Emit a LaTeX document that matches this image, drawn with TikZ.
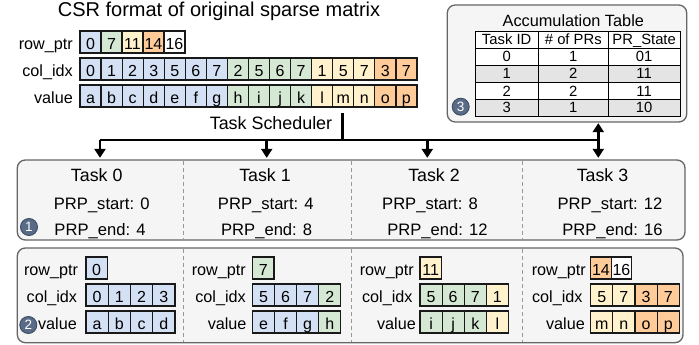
\documentclass[tikz,border=0pt]{standalone}
\usepackage{fontspec}
\setmainfont{Liberation Sans}
\usetikzlibrary{arrows.meta}
\definecolor{cblue}{HTML}{D4E1F5}
\definecolor{cgreen}{HTML}{D5E8D4}
\definecolor{cyellow}{HTML}{FFF2CC}
\definecolor{corange}{HTML}{FFCC99}
\definecolor{boxfill}{HTML}{F5F5F5}
\definecolor{boxline}{HTML}{666666}
\definecolor{rowgray}{HTML}{E4E4E4}
\definecolor{marker}{HTML}{596B86}
\definecolor{markerline}{HTML}{3C4C63}
% #1 prefix, #2 left x, #3 top y, #4 cell width, #5 list text/colour
\newcommand\cellrow[5]{%
  \foreach \t/\c [count=\i] in {#5} {%
    \node[cellbox, fill=\c, minimum width=#4] (#1\i) at ({#2+(\i-0.5)*#4},{#3+11}) {\t};
  }}
\newcommand\rowlabel[4]{% #1 name, #2 right x, #3 top y, #4 text
  \node[lbl, anchor=base east] (#1) at (#2,{#3+18.5}) {#4};}
\begin{document}
\begin{tikzpicture}[x=1pt,y=-1pt,
  cellbox/.style={draw=black!90, line width=1.2pt, inner sep=0pt, minimum height=22pt,
    text height=15pt, text depth=0pt, font=\fontsize{16}{16}\selectfont},
  lbl/.style={inner sep=0pt, font=\fontsize{16.2}{16}\selectfont},
  bigbox/.style={draw=boxline, fill=boxfill, line width=1.3pt, rounded corners=8pt, inner sep=0pt},
  sep/.style={draw=gray!80, line width=0.8pt, dash pattern=on 3.5pt off 3.5pt},
  tcell/.style={draw=black, line width=0.9pt, inner sep=0pt, minimum height=17pt,
    text height=11pt, text depth=0pt, font=\fontsize{14.8}{15}\selectfont},
  marknode/.style={circle, fill=marker, draw=markerline, line width=0.9pt, minimum size=17pt,
    inner sep=0pt, text=white, font=\fontsize{13.5}{13.5}\selectfont},
  tasktitle/.style={inner sep=0pt, anchor=base, font=\fontsize{17.8}{18}\selectfont},
  prp/.style={inner sep=0pt, anchor=base, font=\fontsize{16.6}{17}\selectfont},
  link/.style={line width=2.5pt, draw=black},
  arr/.style={link, -{Triangle[width=11pt,length=9pt]}},
  darr/.style={link, {Triangle[width=11pt,length=9pt]}-{Triangle[width=11pt,length=9pt]}}
]
\useasboundingbox (0,0) rectangle (699,345);

% ---------- title and original CSR ----------
\node[inner sep=0pt, anchor=base, font=\fontsize{20}{20}\selectfont] (title) at (219,17) {CSR format of original sparse matrix};

\rowlabel{lrp}{73}{31}{row\_ptr}
\rowlabel{lci}{73}{58}{col\_idx}
\rowlabel{lva}{73}{85}{value}
\cellrow{rp}{80}{31}{21}{0/cblue,7/cgreen,11/cyellow,14/corange,16/white}
\cellrow{ci}{80}{58}{21.06}{0/cblue,1/cblue,2/cblue,3/cblue,5/cblue,6/cblue,7/cblue,2/cgreen,5/cgreen,6/cgreen,7/cgreen,1/cyellow,5/cyellow,7/cyellow,3/corange,7/corange}
\cellrow{va}{80}{85}{21.06}{a/cblue,b/cblue,c/cblue,d/cblue,e/cblue,f/cblue,g/cblue,h/cgreen,i/cgreen,j/cgreen,k/cgreen,l/cyellow,m/cyellow,n/cyellow,o/corange,p/corange}

% ---------- accumulation table ----------
\node[bigbox, minimum width=239.4pt, minimum height=117pt] (acc) at (567,63.5) {};
\node[inner sep=0pt, anchor=base, font=\fontsize{16.3}{16}\selectfont] (acctitle) at (573.3,26.7) {Accumulation Table};
\foreach \a/\b/\cc/\f [count=\r from 0] in {Task ID/\# of PRs/PR\_State/white,0/1/01/white,1/2/11/rowgray,2/2/11/white,3/1/10/rowgray} {
  \node[tcell, fill=\f, minimum width=63.3pt] (t\r a) at (506.65,{39.5+17*\r}) {\a};
  \node[tcell, fill=\f, minimum width=70pt]   (t\r b) at (573.3,{39.5+17*\r}) {\b};
  \node[tcell, fill=\f, minimum width=71.7pt] (t\r c) at (644.15,{39.5+17*\r}) {\cc};
}
\node[marknode] (m3) at (460.7,106.7) {3};

% ---------- task boxes ----------
\node[bigbox, minimum width=667.7pt, minimum height=80pt] (tasks) at (351.15,200) {};
\node[bigbox, minimum width=665.7pt, minimum height=94.7pt] (parts) at (350.15,295.35) {};
\foreach \x in {183.3,351,522.7} {
  \draw[sep] (\x,161) -- (\x,239);
  \draw[sep] (\x,249) -- (\x,342);
}

% ---------- scheduler and arrows ----------
\node[inner sep=0pt, anchor=base, font=\fontsize{17.9}{18}\selectfont] (sched) at (271,129.3) {Task Scheduler};
\coordinate (s0) at (342.3,113);
\coordinate (sj) at (342.3,140);
\coordinate (j0) at (100,140);
\coordinate (j1) at (266.7,140);
\coordinate (j2) at (427.3,140);
\coordinate (j3) at (598.3,140);
\draw[link] (s0) -- (sj);
\draw[link] (j0) -- (j3);
\draw[arr, shorten >=1.5pt] (j0) -- (j0 |- tasks.north);
\draw[arr, shorten >=1.5pt] (j1) -- (j1 |- tasks.north);
\draw[arr, shorten >=1.5pt] (j2) -- (j2 |- tasks.north);
\draw[darr, shorten >=1.5pt, shorten <=0.5pt] (j3 |- acc.south) -- (j3 |- tasks.north);

% ---------- task contents ----------
\node[tasktitle] (T0) at (96.7,181.7) {Task 0};
\node[tasktitle] (T1) at (265,181.7) {Task 1};
\node[tasktitle] (T2) at (434,181.7) {Task 2};
\node[tasktitle] (T3) at (602.5,181.7) {Task 3};
\node[prp] (S0) at (101.7,209.3) {PRP\_start: 0};
\node[prp] (S1) at (265.8,209.3) {PRP\_start: 4};
\node[prp] (S2) at (430,209.3) {PRP\_start: 8};
\node[prp] (S3) at (610,209.3) {PRP\_start: 12};
\node[prp] (E0) at (100,235) {PRP\_end: 4};
\node[prp] (E1) at (266.7,235) {PRP\_end: 8};
\node[prp] (E2) at (437.5,235) {PRP\_end: 12};
\node[prp] (E3) at (612.5,235) {PRP\_end: 16};
\node[marknode] (m1) at (29,227) {1};

% ---------- per-task CSR parts ----------
% Task 0
\rowlabel{a0}{78.3}{257}{row\_ptr}
\rowlabel{b0}{77.3}{284}{col\_idx}
\rowlabel{c0}{77}{311}{value}
\cellrow{p0r}{86}{257}{21.3}{0/cblue}
\cellrow{p0c}{86}{284}{22.25}{0/cblue,1/cblue,2/cblue,3/cblue}
\cellrow{p0v}{86}{311}{22.25}{a/cblue,b/cblue,c/cblue,d/cblue}
% Task 1
\rowlabel{a1}{246}{257}{row\_ptr}
\rowlabel{b1}{246}{284}{col\_idx}
\rowlabel{c1}{246.7}{311}{value}
\cellrow{p1r}{252.4}{257}{21.6}{7/cgreen}
\cellrow{p1c}{252.4}{284}{22.1}{5/cblue,6/cblue,7/cblue,2/cgreen}
\cellrow{p1v}{252.4}{311}{22.1}{e/cblue,f/cblue,g/cblue,h/cgreen}
% Task 2
\rowlabel{a2}{414}{257}{row\_ptr}
\rowlabel{b2}{412.7}{284}{col\_idx}
\rowlabel{c2}{416}{311}{value}
\cellrow{p2r}{420}{257}{21.6}{11/cyellow}
\cellrow{p2c}{420}{284}{22.1}{5/cgreen,6/cgreen,7/cgreen,1/cyellow}
\cellrow{p2v}{420}{311}{22.1}{i/cgreen,j/cgreen,k/cgreen,l/cyellow}
% Task 3
\rowlabel{a3}{586}{257}{row\_ptr}
\rowlabel{b3}{582.7}{284}{col\_idx}
\rowlabel{c3}{585}{311}{value}
\cellrow{p3r}{590.7}{257}{20.5}{14/corange,16/white}
\cellrow{p3c}{590.7}{284}{22.15}{5/cyellow,7/cyellow,3/corange,7/corange}
\cellrow{p3v}{590.7}{311}{22.15}{m/cyellow,n/cyellow,o/corange,p/corange}
\node[marknode] (m2) at (28.3,325) {2};
\end{tikzpicture}
\end{document}
